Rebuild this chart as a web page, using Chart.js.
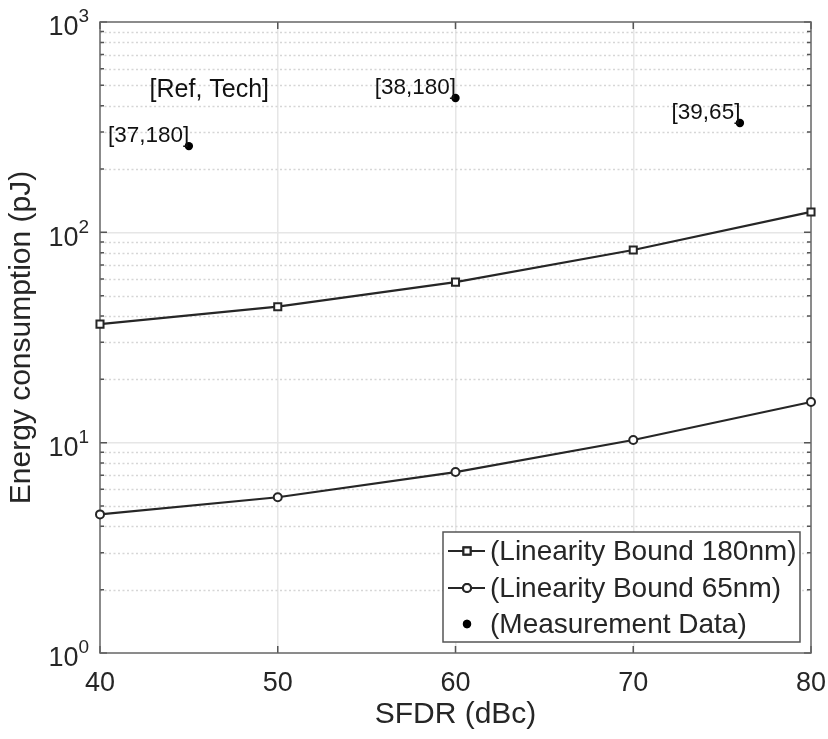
<!DOCTYPE html>
<html>
<head>
<meta charset="utf-8">
<title>Energy vs SFDR</title>
<script src="https://cdn.jsdelivr.net/npm/chart.js@4.4.0/dist/chart.umd.min.js"></script>
<style>
  html, body { margin: 0; padding: 0; background: #fff; }
  canvas { display: block; }
</style>
</head>
<body>
<canvas id="energyChart" width="828" height="739"></canvas>
<script>
// SFDR sweep and the two linearity bounds (pJ)
const sfdr = [40, 50, 60, 70, 80];
const bound180 = [36.6, 44.3, 58.0, 82.4, 125];
const bound65 = [4.56, 5.50, 7.25, 10.3, 15.6];

// measured designs, labelled [Ref, Tech]
const measSfdr = [45, 60, 76];
const measEnergy = [257, 435, 331];
const measLabels = ['[37,180]', '[38,180]', '[39,65]'];

const xTicks = [40, 50, 60, 70, 80];
const yDecades = [1, 10, 100, 1000];
const yExponents = ['0', '1', '2', '3'];
const seriesNames = ['(Linearity Bound 180nm)', '(Linearity Bound 65nm)', '(Measurement Data)'];

const FONT = '"Liberation Sans", Arial, Helvetica, sans-serif';
const INK = '#262626';

const isDecade = v => Math.abs(Math.log10(v) - Math.round(Math.log10(v))) < 1e-9;

// minor log grid, box, inside ticks, y labels with exponents, annotations, legend
const matlabAxes = {
  id: 'matlabAxes',
  beforeDatasetsDraw(chart) {
    const { ctx, chartArea: a, scales: { x, y } } = chart;
    ctx.save();
    ctx.strokeStyle = '#d6d6d6';
    ctx.lineWidth = 1.5;
    ctx.setLineDash([2, 2.5]);
    for (let d = 1; d < 1000; d *= 10) {
      for (let m = 2; m <= 9; m++) {
        const py = Math.round(y.getPixelForValue(d * m)) + 0.5;
        ctx.beginPath();
        ctx.moveTo(a.left, py);
        ctx.lineTo(a.right, py);
        ctx.stroke();
      }
    }
    ctx.setLineDash([]);

    // inside tick marks on all four sides
    ctx.strokeStyle = '#555';
    ctx.lineWidth = 1.5;
    for (let d = 1; d <= 1000; d *= 10) {
      for (let m = 1; m <= 9; m++) {
        const v = d * m;
        if (v > 1000) break;
        const py = y.getPixelForValue(v);
        const len = m === 1 ? 7 : 4;
        ctx.beginPath();
        ctx.moveTo(a.left, py); ctx.lineTo(a.left + len, py);
        ctx.moveTo(a.right, py); ctx.lineTo(a.right - len, py);
        ctx.stroke();
      }
    }
    xTicks.forEach(t => {
      const px = x.getPixelForValue(t);
      ctx.beginPath();
      ctx.moveTo(px, a.bottom); ctx.lineTo(px, a.bottom - 7);
      ctx.moveTo(px, a.top); ctx.lineTo(px, a.top + 7);
      ctx.stroke();
    });

    // axes box
    ctx.strokeStyle = '#666';
    ctx.lineWidth = 1.5;
    ctx.strokeRect(a.left, a.top, a.right - a.left, a.bottom - a.top);
    ctx.restore();
  },
  afterDraw(chart) {
    const { ctx, scales: { x, y } } = chart;
    ctx.save();
    ctx.fillStyle = INK;

    // y tick labels as 10^n
    yDecades.forEach((v, i) => {
      const py = y.getPixelForValue(v);
      ctx.font = '19px ' + FONT;
      const ew = ctx.measureText(yExponents[i]).width;
      ctx.textAlign = 'left';
      ctx.textBaseline = 'middle';
      ctx.fillText(yExponents[i], 89 - ew, py - 5);
      ctx.font = '27px ' + FONT;
      ctx.textAlign = 'right';
      ctx.fillText('10', 89 - ew, py + 6);
    });

    // measurement labels
    ctx.fillStyle = '#111';
    ctx.font = '22.5px ' + FONT;
    ctx.textAlign = 'right';
    ctx.textBaseline = 'alphabetic';
    measLabels.forEach((t, i) => {
      const px = x.getPixelForValue(measSfdr[i]);
      const py = y.getPixelForValue(measEnergy[i]);
      ctx.fillText(t, px + 0.5, py - 4);
    });
    ctx.font = '25px ' + FONT;
    ctx.textAlign = 'center';
    ctx.textBaseline = 'middle';
    ctx.fillText('[Ref, Tech]', x.getPixelForValue(46.15), y.getPixelForValue(475));

    // legend box
    const bx = 443, by = 532, bw = 357, bh = 110;
    ctx.fillStyle = '#fff';
    ctx.fillRect(bx, by, bw, bh);
    ctx.strokeStyle = '#555';
    ctx.lineWidth = 1.5;
    ctx.strokeRect(bx, by, bw, bh);
    const rows = [551, 588, 624];
    chart.data.datasets.forEach((ds, i) => {
      const ry = rows[i];
      ctx.strokeStyle = ds.borderColor;
      ctx.lineWidth = ds.borderWidth;
      if (ds.showLine) {
        ctx.beginPath();
        ctx.moveTo(448, ry);
        ctx.lineTo(485, ry);
        ctx.stroke();
      }
      Chart.helpers.drawPoint(ctx, {
        pointStyle: ds.pointStyle,
        radius: ds.pointRadius,
        rotation: 0,
        borderWidth: ds.pointBorderWidth
      }, 467, ry);
      ctx.fillStyle = ds.pointBackgroundColor;
      ctx.fill();
      ctx.strokeStyle = ds.borderColor;
      ctx.lineWidth = ds.pointBorderWidth;
      if (ds.pointBorderWidth > 0) ctx.stroke();
      ctx.fillStyle = INK;
      ctx.font = '28px ' + FONT;
      ctx.textAlign = 'left';
      ctx.textBaseline = 'middle';
      ctx.fillText(seriesNames[i], 490, ry + 1);
    });
    ctx.restore();
  }
};

const toPoints = (xs, ys) => xs.map((v, i) => ({ x: v, y: ys[i] }));

new Chart(document.getElementById('energyChart'), {
  type: 'scatter',
  data: {
    datasets: [
      {
        label: seriesNames[0],
        data: toPoints(sfdr, bound180),
        showLine: true,
        borderColor: INK,
        borderWidth: 2.2,
        pointStyle: 'rect',
        pointRadius: 5,
        pointBorderWidth: 2,
        pointBackgroundColor: '#fff',
        pointBorderColor: INK,
        clip: false
      },
      {
        label: seriesNames[1],
        data: toPoints(sfdr, bound65),
        showLine: true,
        borderColor: INK,
        borderWidth: 2.2,
        pointStyle: 'circle',
        pointRadius: 4,
        pointBorderWidth: 2,
        pointBackgroundColor: '#fff',
        pointBorderColor: INK,
        clip: false
      },
      {
        label: seriesNames[2],
        data: toPoints(measSfdr, measEnergy),
        showLine: false,
        borderColor: '#000',
        borderWidth: 0,
        pointStyle: 'circle',
        pointRadius: 4.2,
        pointBorderWidth: 0,
        pointBackgroundColor: '#000',
        pointBorderColor: '#000',
        clip: false
      }
    ]
  },
  options: {
    responsive: false,
    devicePixelRatio: 1,
    animation: false,
    layout: { padding: { top: 22, right: 17, left: 0, bottom: 0 } },
    plugins: {
      legend: { display: false },
      tooltip: { enabled: false }
    },
    scales: {
      x: {
        type: 'linear',
        min: 40,
        max: 80,
        afterBuildTicks: scale => { scale.ticks = xTicks.map(v => ({ value: v })); },
        afterFit: scale => {
          scale.height = 86;
          scale.paddingLeft = 0;
          scale.paddingRight = 0;
        },
        ticks: {
          font: { family: FONT, size: 27 },
          color: INK,
          padding: 14,
          maxRotation: 0
        },
        grid: {
          drawTicks: false,
          lineWidth: 1.5,
          color: ctx => (ctx.tick && (ctx.tick.value === 40 || ctx.tick.value === 80)) ? 'rgba(0,0,0,0)' : '#e6e6e6'
        },
        border: { display: false },
        title: {
          display: true,
          text: 'SFDR (dBc)',
          font: { family: FONT, size: 30 },
          color: INK,
          padding: { top: 0, bottom: 6 }
        }
      },
      y: {
        type: 'logarithmic',
        min: 1,
        max: 1000,
        afterFit: scale => { scale.width = 100; },
        ticks: { display: false },
        grid: {
          drawTicks: false,
          lineWidth: 1.5,
          color: ctx => (ctx.tick && isDecade(ctx.tick.value) && ctx.tick.value > 1 && ctx.tick.value < 1000) ? '#e6e6e6' : 'rgba(0,0,0,0)'
        },
        border: { display: false },
        title: {
          display: true,
          text: 'Energy consumption (pJ)',
          font: { family: FONT, size: 30 },
          color: INK,
          padding: { top: 4, bottom: 0 }
        }
      }
    }
  },
  plugins: [matlabAxes]
});
</script>
</body>
</html>
